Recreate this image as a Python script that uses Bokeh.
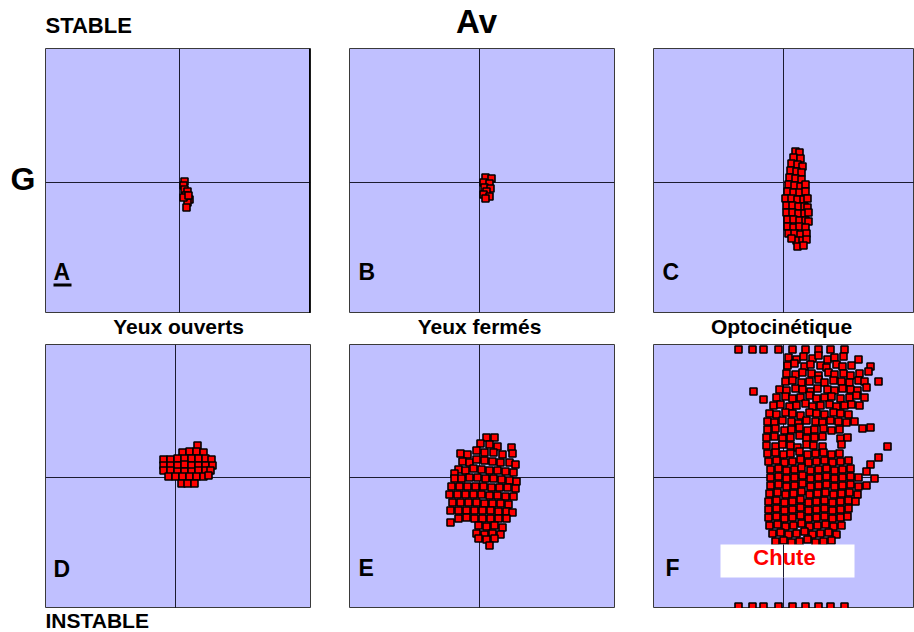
from bokeh.plotting import figure
from bokeh.models import Range1d, Span, Label, BoxAnnotation, Spacer
from bokeh.layouts import row, column
from bokeh.embed import file_html
from bokeh.resources import INLINE

# ---------------- data (centre-of-pressure excursions, arbitrary units) -------------
A_x = [5, 4, 5, 8, 6, 10, 8, 7, 4, 9]
A_y = [1, -3, -7, -9, -13, -17, -20, -25, -15, -13]

B_x = [6, 12, 4, 10, 5, 11, 7, 4, 10, 6]
B_y = [5, 4, 0, -1, -5, -6, -9, -12, -14, -16]

C_x = [12, 16, 10, 17, 8, 14, 19, 7, 13, 18, 6, 12, 18, 5, 11, 17, 22, 4, 10, 16, 22,
       2, 8, 14, 20, 24, 3, 9, 15, 21, 24, 3, 9, 15, 21, 25, 4, 10, 16, 22, 25,
       4, 10, 16, 22, 5, 11, 17, 23, 13, 19, 23, 8, 14, 20]
C_y = [31, 30, 25, 24, 19, 18, 16, 12, 11, 10, 5, 4, 3, -2, -3, -4, -2, -9, -10, -10, -9,
       -16, -16, -17, -17, -16, -23, -23, -24, -24, -25, -30, -30, -31, -31, -30, -37, -37, -38, -38, -39,
       -44, -45, -44, -45, -51, -51, -52, -51, -58, -58, -57, -56, -64, -63]

D_x = [22, 7, 14, 21, 28, -12, -5, 2, 9, 16, 23, 30, 36, -12, -5, 2, 9, 16, 23, 30, 37,
       -12, -5, 2, 9, 16, 23, 30, 35, -7, 0, 7, 14, 21, 28, 33, 6, 12, 19]
D_y = [32, 25, 26, 26, 25, 18, 18, 19, 19, 19, 19, 19, 18, 12, 12, 12, 13, 12, 12, 12, 12,
       7, 7, 6, 6, 6, 7, 7, 7, 1, 1, 1, 1, 1, 1, 2, -6, -6, -6]

E_x = [7, 15, 1, 10, 18, 32, -3, 5, 14, 23, 33, -19, -12,
       -17, -10, -3, 5, 13, 21, 30, 36,
       -21, -14, -6, 2, 10, 18, 26, 34, -25,
       -25, -18, -10, -2, 6, 14, 22, 30, 37,
       -28, -20, -12, -4, 4, 12, 20, 28, 36,
       -30, -22, -14, -6, 2, 10, 18, 26, 34,
       -27, -19, -11, -3, 5, 13, 21, 29,
       -29, -21, -13, -5, 3, 11, 19, 27, 33,
       -29, -21, -13, -5, 3, 11, 19, 27,
       -1, 7, 15, 23, -3, 5, 13, 21, -1, 7, 15, 10]
E_y = [40, 40, 34, 33, 31, 30, 27, 25, 25, 23, 24, 24, 23,
       16, 15, 18, 17, 16, 15, 15, 13,
       8, 7, 9, 8, 7, 7, 6, 5, 4,
       -1, -1, 0, 0, -1, -1, -2, -3, -4,
       -9, -9, -9, -9, -9, -10, -10, -10, -11,
       -17, -17, -17, -17, -17, -18, -18, -19, -19,
       -25, -25, -25, -25, -26, -26, -26, -27,
       -33, -33, -33, -33, -33, -33, -34, -34, -35,
       -45, -41, -40, -41, -41, -41, -41, -41,
       -48, -49, -48, -50, -56, -57, -56, -57, -61, -62, -61, -68]

F_x = [-45, -31, -20, -5, 9, 22, 35, 47, 61,
       5, 13, 20, 29, 35, 44, 51, 60, 75,
       4, 11, 21, 27, 37, 43, 53, 59, 68, 87,
       3, 12, 19, 28, 35, 45, 51, 60, 67, 76, 85,
       2, 9, 18, 26, 35, 41, 50, 58, 66, 75, 81, 95,
       -4, 3, 12, 19, 27, 34, 44, 51, 59, 67, 74, 83, -30,
       -7, 2, 9, 17, 26, 33, 41, 48, 57, 66, 73, 81, -20,
       -10, -3, 6, 13, 22, 29, 37, 46, 53, 61, 68, 76,
       -14, -7, 2, 9, 17, 26, 33, 41, 50, 57, 65,
       -16, -9, -1, 8, 15, 23, 32, 39, 47, 55, 63, 71,
       -16, -8, 1, 8, 16, 24, 31, 40, 48, 56, 79, 87,
       -17, -9, -1, 7, 16, 23, 31, 39, 57, 64,
       -17, -8, -1, 7, 14, 23, 30, 39, 58, 104,
       -16, -8, 0, 7, 16, 24, 32, 40, 48, 56, 95,
       -15, -7, 1, 9, 17, 25, 33, 41, 49, 57, 65, 87,
       -13, -5, 3, 11, 18, 27, 35, 43, 51, 59, 67, 83,
       -13, -5, 3, 11, 19, 27, 35, 43, 51, 59, 67, 75, 91,
       -13, -5, 3, 11, 19, 27, 35, 43, 51, 59, 67, 75, 83,
       -14, -6, 2, 10, 18, 26, 34, 42, 50, 58, 66, 74,
       -15, -7, 1, 9, 17, 25, 33, 41, 49, 57, 65, 72,
       -15, -7, 1, 9, 17, 25, 33, 41, 49, 57, 65,
       -15, -7, 1, 9, 17, 25, 33, 41, 49, 57, 64,
       -14, -6, 2, 10, 18, 26, 34, 42, 50, 58,
       -11, -3, 5, 13, 21, 29, 37, 45, 53,
       -8, 0, 8, 16, 24, 32, 40, 48,
       -45, -31, -20, -5, 9, 22, 35, 47, 61]
F_y = [128, 128, 128, 128, 128, 128, 128, 128, 128,
       120, 118, 121, 119, 122, 118, 120, 121, 118,
       112, 114, 111, 113, 112, 110, 113, 111, 112, 111,
       104, 103, 105, 104, 102, 105, 103, 104, 102, 104, 106,
       96, 97, 95, 96, 98, 95, 97, 96, 95, 97, 96, 96,
       88, 87, 89, 88, 86, 89, 88, 87, 89, 88, 87, 90, 86,
       80, 81, 79, 80, 82, 79, 80, 81, 79, 80, 82, 80, 78,
       72, 73, 71, 72, 74, 71, 72, 73, 71, 72, 73, 72,
       64, 63, 65, 64, 62, 65, 64, 63, 65, 64, 63,
       56, 55, 57, 56, 54, 57, 56, 55, 57, 56, 55, 56,
       48, 49, 47, 48, 50, 47, 48, 49, 47, 48, 49, 50,
       40, 41, 39, 40, 42, 39, 40, 41, 39, 40,
       32, 31, 33, 32, 30, 33, 32, 31, 33, 31,
       24, 25, 23, 24, 26, 23, 24, 25, 23, 24, 20,
       16, 17, 15, 16, 18, 15, 16, 17, 15, 16, 17, 13,
       8, 9, 7, 8, 10, 7, 8, 9, 7, 8, 9, 6,
       0, 1, -1, 0, 2, -1, 0, 1, -1, 0, 1, 0, -1,
       -8, -7, -9, -8, -6, -9, -8, -7, -9, -8, -7, -9, -8,
       -16, -15, -17, -16, -14, -17, -16, -15, -17, -16, -15, -17,
       -24, -23, -25, -24, -22, -25, -24, -23, -25, -24, -23, -24,
       -32, -31, -33, -32, -30, -33, -32, -31, -33, -32, -31,
       -40, -39, -41, -40, -38, -41, -40, -39, -41, -40, -39,
       -48, -47, -49, -48, -46, -49, -48, -47, -49, -48,
       -56, -55, -57, -56, -54, -57, -56, -55, -57,
       -64, -63, -65, -64, -62, -65, -64, -63,
       -129, -129, -129, -129, -129, -129, -129, -129, -129]

panel_letters = ["A", "B", "C", "D", "E", "F"]
conditions = ["Yeux ouverts", "Yeux fermés", "Optocinétique"]
row_labels = ["STABLE", "INSTABLE"]
direction_labels = ["Av", "G"]
fall_label = "Chute"

# ---------------- styling ----------------
BG = "#C0C0FF"
LINE = "#1c1c30"
FONT = "Liberation Sans"
MID = 0.35  # Bokeh places the label's vertical middle at y; shift so y acts as baseline


def base_fig(width, height, xr, yr, bl=0, br=0, bt=0, bb=0):
    p = figure(width=width, height=height, x_range=Range1d(*xr), y_range=Range1d(*yr),
               output_backend="svg", toolbar_location=None, tools="", title=None,
               x_axis_location=None, y_axis_location=None,
               min_border_left=bl, min_border_right=br, min_border_top=bt, min_border_bottom=bb)
    p.xgrid.visible = False
    p.ygrid.visible = False
    p.border_fill_color = "white"
    return p


def panel(xr, yr, width, height, bl, br, xs, ys):
    p = base_fig(width, height, xr, yr, bl, br, 0, 0)
    p.background_fill_color = BG
    p.outline_line_color = "#3a3a3a"
    p.outline_line_width = 1
    p.add_layout(Span(location=0, dimension="height", line_color=LINE, line_width=1, level="underlay"))
    p.add_layout(Span(location=0, dimension="width", line_color=LINE, line_width=1, level="underlay"))
    p.scatter(x=xs, y=ys, marker="square", size=7, fill_color="#FF0000",
              line_color="black", line_width=1.6)
    return p


def text_fig(width, height):
    p = base_fig(width, height, (0, width), (0, height))
    p.background_fill_color = "white"
    p.outline_line_color = None
    return p


def lab(p, x, baseline, text, fs, align="left", color="black"):
    p.add_layout(Label(x=x, y=baseline + MID * fs, text=text, text_font=FONT,
                       text_font_style="bold", text_font_size=f"{fs}px",
                       text_align=align, text_baseline="middle", text_color=color))


# ---------------- panels ----------------
pA = panel((-134, 131), (-131, 134), 285, 265, 0, 20, A_x, A_y)
pB = panel((-130, 135), (-131, 134), 304, 265, 19, 20, B_x, B_y)
pC = panel((-130, 131), (-131, 134), 280, 265, 19, 0, C_x, C_y)
pD = panel((-130, 135), (-131, 133), 285, 264, 0, 20, D_x, D_y)
pE = panel((-130, 135), (-131, 133), 304, 264, 19, 20, E_x, E_y)
pF = panel((-130, 131), (-131, 133), 280, 264, 19, 0, F_x, F_y)

# thick right edge of panel A
pA.add_layout(Span(location=131, dimension="height", line_color="black", line_width=3))

# panel letters
lab(pA, -126, -98, panel_letters[0], 23)
pA.add_layout(BoxAnnotation(left=-126, right=-108, top=-101, bottom=-104,
                            fill_color="black", fill_alpha=1, line_color=None))
lab(pB, -121, -98, panel_letters[1], 23)
lab(pC, -121, -98, panel_letters[2], 23)
lab(pD, -122, -100, panel_letters[3], 23)
lab(pE, -121, -99, panel_letters[4], 23)
lab(pF, -118, -99, panel_letters[5], 23)

# "Chute" (fall) box
pF.add_layout(BoxAnnotation(left=-63, right=71, top=-67, bottom=-100,
                            fill_color="white", fill_alpha=1, line_color=None))
pF.add_layout(BoxAnnotation(left=-0.5, right=0.5, top=-67, bottom=-100,
                            fill_color=LINE, fill_alpha=1, line_color=None))
lab(pF, 1, -88, fall_label, 22, align="center", color="#FF0000")

# ---------------- text strips ----------------
header = text_fig(914, 48)
lab(header, 45, 15, row_labels[0], 22)
lab(header, 476, 15, direction_labels[0], 33, align="center")

gcol = text_fig(45, 265)
lab(gcol, 10, 123, direction_labels[1], 32)

captions = text_fig(914, 31)
lab(captions, 178, 11, conditions[0], 21, align="center")
lab(captions, 479, 11, conditions[1], 21, align="center")
lab(captions, 781, 11, conditions[2], 21, align="center")

footer = text_fig(914, 24)
lab(footer, 45, 5, row_labels[1], 21)

layout = column(
    header,
    row(gcol, pA, pB, pC),
    captions,
    row(Spacer(width=45, height=264), pD, pE, pF),
    footer,
)

with open("out.html", "w") as f:
    f.write(file_html(layout, INLINE))
